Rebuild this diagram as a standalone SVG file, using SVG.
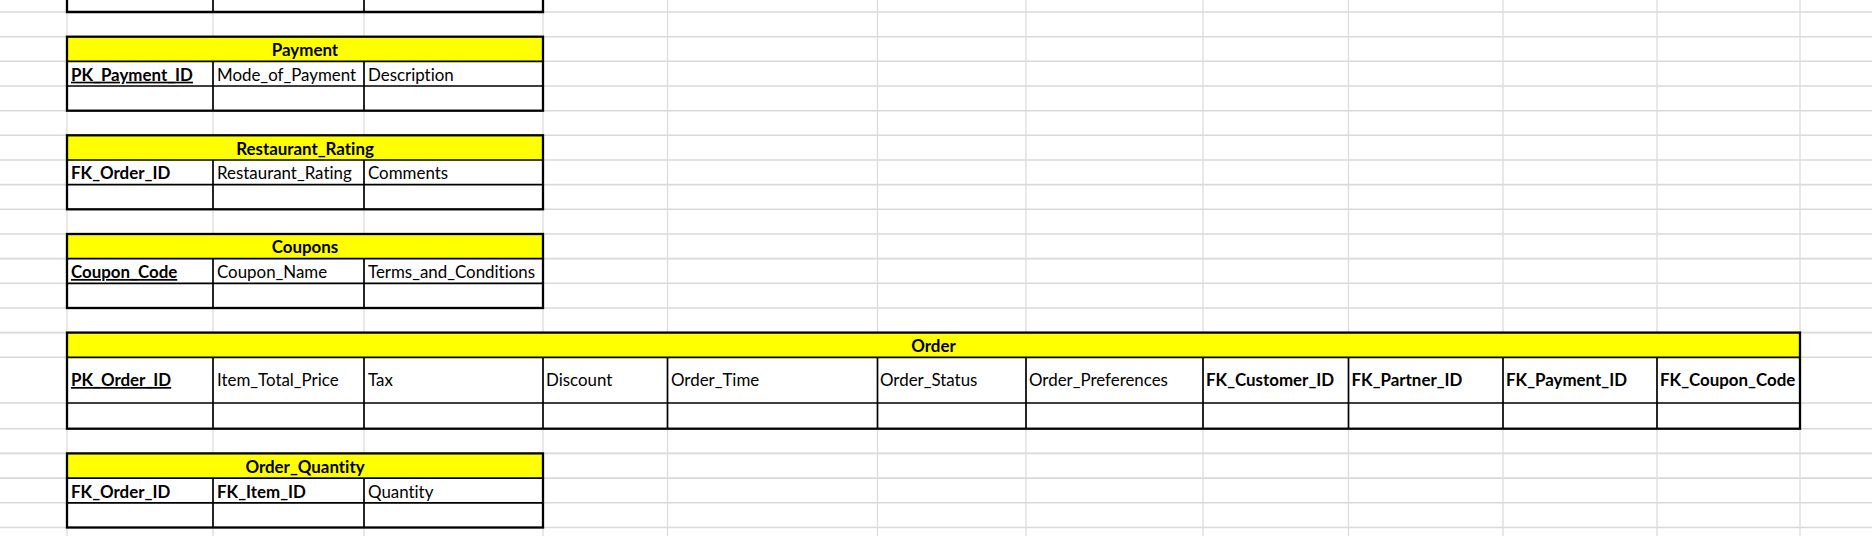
<svg xmlns="http://www.w3.org/2000/svg" width="1872" height="536" viewBox="0 0 1872 536">
<style>
.bg{fill:#ffffff}
.gh{stroke:#d9d9d9;stroke-width:1.6;fill:none}
.gv{stroke:#dcdcdc;stroke-width:1.3;fill:none}
.hdr{fill:#ffff00}
.cell{fill:#ffffff}
.in{stroke:#000;stroke-width:1.7;fill:none}
.out{stroke:#000;stroke-width:2.3;fill:none}
text{font-family:Lato,"Open Sans","Liberation Sans",sans-serif;font-size:16.9px;fill:#000;font-variant-ligatures:none}
.b{font-weight:bold}
.t{font-weight:bold;text-anchor:middle}
.u{text-decoration:underline}
</style>
<rect class="bg" x="0" y="0" width="1872" height="536"/>
<g id="grid">
<path class="gh" d="M0 12H1872M0 36.7H1872M0 61.3H1872M0 86H1872M0 110.7H1872M0 135.3H1872M0 160H1872M0 184.6H1872M0 209.3H1872M0 234H1872M0 258.6H1872M0 283.3H1872M0 308H1872M0 332.6H1872M0 357.3H1872M0 403H1872M0 428.7H1872M0 453.4H1872M0 478.1H1872M0 502.8H1872M0 527.5H1872"/>
<path class="gv" d="M67 0V536M213 0V536M364 0V536M543 0V536M667.5 0V536M877.5 0V536M1026 0V536M1203 0V536M1348.5 0V536M1503 0V536M1657 0V536M1800 0V536"/>
</g>
<g id="connectors"/>
<g id="table-top">
<rect class="cell" x="67" y="0" width="476" height="12"/>
<path class="in" d="M213 0V12M364 0V12"/>
<path class="out" d="M67 0V12H543V0"/>
</g>
<g id="table-payment">
<rect class="hdr" x="67" y="36.7" width="476" height="24.6"/>
<rect class="cell" x="67" y="61.3" width="476" height="49.4"/>
<path class="in" d="M67 61.3H543M67 86H543M213 61.3V110.7M364 61.3V110.7"/>
<rect class="out" x="67" y="36.7" width="476" height="74"/>
<text class="t" x="305" y="56">Payment</text>
<text class="b u" x="71" y="80.7">PK_Payment_ID</text>
<text x="217" y="80.7">Mode_of_Payment</text>
<text x="368" y="80.7">Description</text>
</g>
<g id="table-restaurant-rating">
<rect class="hdr" x="67" y="135.3" width="476" height="24.7"/>
<rect class="cell" x="67" y="160" width="476" height="49.3"/>
<path class="in" d="M67 160H543M67 184.6H543M213 160V209.3M364 160V209.3"/>
<rect class="out" x="67" y="135.3" width="476" height="74"/>
<text class="t" x="305" y="154.6">Restaurant_Rating</text>
<text class="b" x="71" y="179.3">FK_Order_ID</text>
<text x="217" y="179.3">Restaurant_Rating</text>
<text x="368" y="179.3">Comments</text>
</g>
<g id="table-coupons">
<rect class="hdr" x="67" y="234" width="476" height="24.6"/>
<rect class="cell" x="67" y="258.6" width="476" height="49.4"/>
<path class="in" d="M67 258.6H543M67 283.3H543M213 258.6V308M364 258.6V308"/>
<rect class="out" x="67" y="234" width="476" height="74"/>
<text class="t" x="305" y="253.3">Coupons</text>
<text class="b u" x="71" y="278">Coupon_Code</text>
<text x="217" y="278">Coupon_Name</text>
<text x="368" y="278">Terms_and_Conditions</text>
</g>
<g id="table-order">
<rect class="hdr" x="67" y="332.6" width="1733" height="24.7"/>
<rect class="cell" x="67" y="357.3" width="1733" height="71.4"/>
<path class="in" d="M67 357.3H1800M67 403H1800M213 357.3V428.7M364 357.3V428.7M543 357.3V428.7M667.5 357.3V428.7M877.5 357.3V428.7M1026 357.3V428.7M1203 357.3V428.7M1348.5 357.3V428.7M1503 357.3V428.7M1657 357.3V428.7"/>
<rect class="out" x="67" y="332.6" width="1733" height="96.1"/>
<text class="t" x="933.5" y="351.9">Order</text>
<text class="b u" x="71" y="386">PK_Order_ID</text>
<text x="217" y="386">Item_Total_Price</text>
<text x="368" y="386">Tax</text>
<text x="546" y="386">Discount</text>
<text x="671" y="386">Order_Time</text>
<text x="880" y="386">Order_Status</text>
<text x="1029" y="386">Order_Preferences</text>
<text class="b" x="1206" y="386">FK_Customer_ID</text>
<text class="b" x="1351.5" y="386">FK_Partner_ID</text>
<text class="b" x="1506" y="386">FK_Payment_ID</text>
<text class="b" x="1660" y="386">FK_Coupon_Code</text>
</g>
<g id="table-order-quantity">
<rect class="hdr" x="67" y="453.4" width="476" height="24.7"/>
<rect class="cell" x="67" y="478.1" width="476" height="49.4"/>
<path class="in" d="M67 478.1H543M67 502.8H543M213 478.1V527.5M364 478.1V527.5"/>
<rect class="out" x="67" y="453.4" width="476" height="74.1"/>
<text class="t" x="305" y="472.8">Order_Quantity</text>
<text class="b" x="71" y="497.5">FK_Order_ID</text>
<text class="b" x="217" y="497.5">FK_Item_ID</text>
<text x="368" y="497.5">Quantity</text>
</g>
</svg>
